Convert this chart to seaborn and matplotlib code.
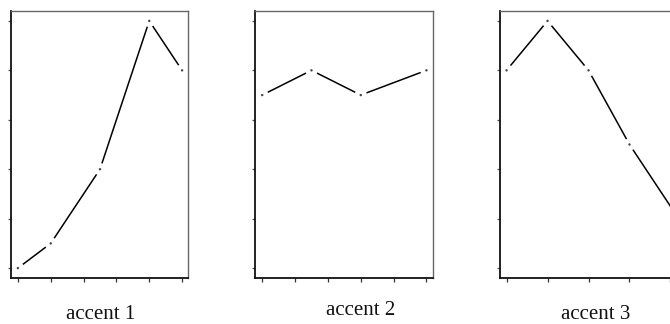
import matplotlib
matplotlib.use("Agg")
import matplotlib.pyplot as plt
import seaborn as sns
import pandas as pd

# ---- data ----
panel_labels = ["accent 1", "accent 2", "accent 3"]
x1 = [0, 1, 2.5, 4, 5]
y1 = [0, 0.5, 2, 5, 4]
x2 = [0, 1.5, 3, 5]
y2 = [3.5, 4, 3.5, 4]
x3 = [0, 1, 2, 3, 5]
y3 = [4, 5, 4, 2.5, 0]
x_ticks = [0, 1, 2, 3, 4, 5]
y_ticks = [0, 1, 2, 3, 4, 5]

series = [(x1, y1), (x2, y2), (x3, y3)]

sns.set_theme(style="white")
plt.rcParams["font.family"] = ["Liberation Serif", "DejaVu Serif"]

W, H = 670, 324
fig = plt.figure(figsize=(W / 100, H / 100), dpi=100)

# axes boxes in pixels: (left, right)
boxes = [(11, 188), (255, 433), (500, 718)]
top_px, bot_px = 11, 278
xlims = [(-0.21, 5.18), (-0.22, 5.2), (-0.16, 5.16)]

for (l, r), (xs, ys), xl in zip(boxes, series, xlims):
    ax = fig.add_axes([l / W, 1 - bot_px / H, (r - l) / W, (bot_px - top_px) / H])
    df = pd.DataFrame({"x": xs, "y": ys})
    sns.lineplot(data=df, x="x", y="y", ax=ax, color="black", lw=1.1,
                 estimator=None, sort=False, zorder=1)
    sns.scatterplot(data=df, x="x", y="y", ax=ax, color="white", s=80,
                    edgecolor="none", zorder=2)
    sns.scatterplot(data=df, x="x", y="y", ax=ax, color="#444444", s=3,
                    edgecolor="none", zorder=2.2)
    ax.set_xlim(*xl)
    ax.set_ylim(-0.2, 5.2)
    ax.set_xticks(x_ticks)
    ax.set_yticks(y_ticks)
    ax.set_xticklabels([])
    ax.set_yticklabels([])
    ax.set_xlabel("")
    ax.set_ylabel("")
    ax.tick_params(axis="x", which="major", bottom=True, direction="out",
                   length=3.2, width=0.9, color="#333333")
    ax.tick_params(axis="y", which="major", left=True, direction="out",
                   length=2.4, width=0.9, color="#555555")
    for side in ["left", "bottom"]:
        ax.spines[side].set_color("#111111")
        ax.spines[side].set_linewidth(1.3)
        ax.spines[side].set_zorder(3)
    for side in ["top", "right"]:
        ax.spines[side].set_color("#666666")
        ax.spines[side].set_linewidth(1.0)
        ax.spines[side].set_zorder(3)
    ax.grid(False)

label_pos = [(101, 319), (361, 315), (596, 319)]
for txt, (px, py) in zip(panel_labels, label_pos):
    fig.text(px / W, 1 - py / H, txt, ha="center", va="baseline",
             fontsize=15, color="#111111")

fig.savefig("out.png", dpi=100)
